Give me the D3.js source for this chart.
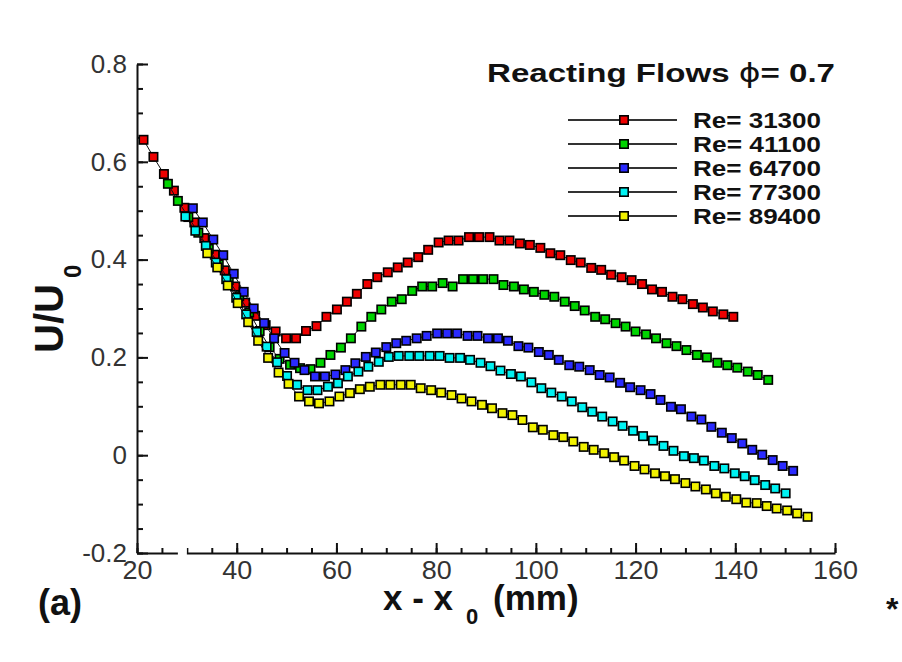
<!DOCTYPE html>
<html>
<head>
<meta charset="utf-8">
<script src="https://cdn.jsdelivr.net/npm/d3@7"></script>
<style>
  html, body { margin: 0; padding: 0; background: #fff; }
  svg { display: block; font-family: "Liberation Sans", Arial, Helvetica, sans-serif; }
</style>
</head>
<body>
<svg id="chart" width="902" height="662"></svg>
<script>
// Mean axial velocity U/U0 along x - x0 (mm), reacting flows at phi = 0.7
const reynolds = [31300, 41100, 64700, 77300, 89400];
const seriesColors = ["#ee0000", "#00d400", "#2a2aff", "#00f2f2", "#f2f200"];

const x31300 = [21.3, 23.3, 25.4, 27.4, 29.5, 31.5, 33.5, 35.6, 37.6, 39.7, 41.7, 43.7, 45.8, 47.8, 49.9, 51.9, 53.9, 56.0, 58.0, 60.1,
  62.1, 64.1, 66.2, 68.2, 70.3, 72.3, 74.3, 76.4, 78.4, 80.5, 82.5, 84.5, 86.6, 88.6, 90.7, 92.7, 94.7, 96.8, 98.8, 100.9,
  102.9, 104.9, 107.0, 109.0, 111.1, 113.1, 115.1, 117.2, 119.2, 121.3, 123.3, 125.3, 127.4, 129.4, 131.5, 133.5, 135.5, 137.6, 139.6];
const u31300 = [0.645, 0.610, 0.575, 0.541, 0.506, 0.476, 0.444, 0.410, 0.378, 0.345,
  0.312, 0.285, 0.266, 0.253, 0.239, 0.239, 0.254, 0.264, 0.283, 0.298,
  0.314, 0.330, 0.350, 0.364, 0.374, 0.384, 0.394, 0.405, 0.420, 0.435,
  0.439, 0.439, 0.446, 0.446, 0.446, 0.439, 0.439, 0.433, 0.430, 0.424,
  0.413, 0.409, 0.399, 0.394, 0.383, 0.379, 0.369, 0.364, 0.358, 0.350,
  0.339, 0.334, 0.324, 0.319, 0.309, 0.302, 0.294, 0.288, 0.283];

const x41100 = [26.2, 28.2, 30.3, 32.3, 34.4, 36.4, 38.4, 40.5, 42.5, 44.6, 46.6, 48.6, 50.7, 52.7, 54.8, 56.8, 58.8, 60.9, 62.9, 65.0,
  67.0, 69.0, 71.1, 73.1, 75.2, 77.2, 79.2, 81.3, 83.3, 85.4, 87.4, 89.4, 91.5, 93.5, 95.6, 97.6, 99.6, 101.7, 103.7, 105.8,
  107.8, 109.8, 111.9, 113.9, 116.0, 118.0, 120.0, 122.1, 124.1, 126.2, 128.2, 130.2, 132.3, 134.3, 136.4, 138.4, 140.4, 142.5, 144.5, 146.6];
const u41100 = [0.555, 0.520, 0.487, 0.455, 0.422, 0.390, 0.358, 0.325, 0.292, 0.254,
  0.221, 0.197, 0.185, 0.178, 0.176, 0.189, 0.205, 0.220, 0.239, 0.263,
  0.283, 0.298, 0.314, 0.319, 0.336, 0.345, 0.345, 0.352, 0.345, 0.360,
  0.360, 0.360, 0.360, 0.348, 0.345, 0.339, 0.334, 0.328, 0.324, 0.314,
  0.305, 0.296, 0.283, 0.278, 0.270, 0.263, 0.253, 0.247, 0.239, 0.229,
  0.223, 0.215, 0.205, 0.200, 0.189, 0.184, 0.179, 0.171, 0.164, 0.154];

const x64700 = [31.2, 33.2, 35.3, 37.3, 39.4, 41.4, 43.4, 45.5, 47.5, 49.6, 51.6, 53.6, 55.7, 57.7, 59.8, 61.8, 63.8, 65.9, 67.9, 70.0,
  72.0, 74.0, 76.1, 78.1, 80.2, 82.2, 84.2, 86.3, 88.3, 90.4, 92.4, 94.4, 96.5, 98.5, 100.6, 102.6, 104.6, 106.7, 108.7, 110.8,
  112.8, 114.8, 116.9, 118.9, 121.0, 123.0, 125.0, 127.1, 129.1, 131.2, 133.2, 135.2, 137.3, 139.3, 141.4, 143.4, 145.4, 147.5, 149.5, 151.6];
const u64700 = [0.505, 0.476, 0.441, 0.409, 0.371, 0.334, 0.300, 0.270, 0.239, 0.209,
  0.189, 0.174, 0.161, 0.161, 0.165, 0.174, 0.188, 0.201, 0.210, 0.221,
  0.229, 0.234, 0.239, 0.244, 0.249, 0.249, 0.249, 0.244, 0.244, 0.239,
  0.239, 0.234, 0.223, 0.220, 0.211, 0.205, 0.195, 0.184, 0.181, 0.174,
  0.164, 0.159, 0.148, 0.139, 0.133, 0.125, 0.113, 0.099, 0.094, 0.079,
  0.073, 0.058, 0.046, 0.035, 0.024, 0.011, 0.001, -0.010, -0.022, -0.032];

const x77300 = [29.7, 31.7, 33.8, 35.8, 37.9, 39.9, 41.9, 44.0, 46.0, 48.1, 50.1, 52.1, 54.2, 56.2, 58.3, 60.3, 62.3, 64.4, 66.4, 68.5,
  70.5, 72.5, 74.6, 76.6, 78.7, 80.7, 82.7, 84.8, 86.8, 88.9, 90.9, 92.9, 95.0, 97.0, 99.1, 101.1, 103.1, 105.2, 107.2, 109.3,
  111.3, 113.3, 115.4, 117.4, 119.5, 121.5, 123.5, 125.6, 127.6, 129.7, 131.7, 133.7, 135.8, 137.8, 139.9, 141.9, 143.9, 146.0, 148.0, 150.1];
const u77300 = [0.488, 0.459, 0.428, 0.394, 0.360, 0.322, 0.288, 0.252, 0.222, 0.190,
  0.162, 0.144, 0.133, 0.133, 0.140, 0.147, 0.161, 0.171, 0.181, 0.191,
  0.201, 0.203, 0.203, 0.203, 0.203, 0.203, 0.199, 0.199, 0.195, 0.189,
  0.182, 0.173, 0.166, 0.161, 0.149, 0.137, 0.128, 0.120, 0.110, 0.098,
  0.089, 0.079, 0.069, 0.060, 0.050, 0.039, 0.030, 0.019, 0.009, -0.002,
  -0.006, -0.011, -0.022, -0.027, -0.037, -0.043, -0.051, -0.061, -0.068, -0.078];

const x89400 = [34.1, 36.1, 38.2, 40.2, 42.3, 44.3, 46.3, 48.4, 50.4, 52.5, 54.5, 56.5, 58.6, 60.6, 62.7, 64.7, 66.7, 68.8, 70.8, 72.9,
  74.9, 76.9, 79.0, 81.0, 83.1, 85.1, 87.1, 89.2, 91.2, 93.3, 95.3, 97.3, 99.4, 101.4, 103.5, 105.5, 107.5, 109.6, 111.6, 113.7,
  115.7, 117.7, 119.8, 121.8, 123.9, 125.9, 127.9, 130.0, 132.0, 134.1, 136.1, 138.1, 140.2, 142.2, 144.3, 146.3, 148.3, 150.4, 152.4, 154.5];
const u89400 = [0.413, 0.384, 0.347, 0.311, 0.272, 0.234, 0.199, 0.169, 0.146, 0.120,
  0.110, 0.106, 0.110, 0.120, 0.127, 0.135, 0.140, 0.144, 0.144, 0.144,
  0.144, 0.137, 0.133, 0.128, 0.123, 0.116, 0.110, 0.103, 0.096, 0.086,
  0.082, 0.072, 0.057, 0.052, 0.041, 0.037, 0.028, 0.017, 0.011, 0.004,
  -0.004, -0.011, -0.022, -0.029, -0.037, -0.043, -0.049, -0.057, -0.064, -0.070,
  -0.078, -0.085, -0.090, -0.097, -0.098, -0.104, -0.109, -0.113, -0.119, -0.126];

const xTickValues = [20, 40, 60, 80, 100, 120, 140, 160];
const xTickLabels = ["20", "40", "60", "80", "100", "120", "140", "160"];
const yTickValues = [-0.2, 0, 0.2, 0.4, 0.6, 0.8];
const yTickLabels = ["-0.2", "0", "0.2", "0.4", "0.6", "0.8"];

const xColumns = [x31300, x41100, x64700, x77300, x89400];
const uColumns = [u31300, u41100, u64700, u77300, u89400];
const series = reynolds.map((re, i) => ({
  re,
  color: seriesColors[i],
  points: d3.zip(xColumns[i], uColumns[i])
}));

const svg = d3.select("#chart");
svg.append("rect").attr("width", 902).attr("height", 662).attr("fill", "#fff");

const x = d3.scaleLinear().domain([20, 160]).range([137, 835]);
const y = d3.scaleLinear().domain([-0.2, 0.8]).range([553, 64]);

const tickFont = 26;

// minor ticks every 5 mm / 0.05, pointing into the plot
svg.append("g")
  .attr("transform", `translate(0,${y(-0.2)})`)
  .call(d3.axisBottom(x).tickValues(d3.range(20, 160.01, 5)).tickSize(-5).tickSizeOuter(0).tickFormat(""))
  .call(g => g.select(".domain").remove())
  .call(g => g.selectAll("line").attr("stroke", "#111").attr("stroke-width", 2));
svg.append("g")
  .attr("transform", `translate(${x(20)},0)`)
  .call(d3.axisLeft(y).tickValues(d3.range(-0.2, 0.8001, 0.05)).tickSize(-6).tickSizeOuter(0).tickFormat(""))
  .call(g => g.select(".domain").remove())
  .call(g => g.selectAll("line").attr("stroke", "#111").attr("stroke-width", 2));

// major ticks with labels
const xAxis = svg.append("g")
  .attr("transform", `translate(0,${y(-0.2)})`)
  .call(d3.axisBottom(x).tickValues(xTickValues).tickSize(-10).tickSizeOuter(0).tickPadding(8)
    .tickFormat((d, i) => xTickLabels[i]));
const yAxis = svg.append("g")
  .attr("transform", `translate(${x(20)},0)`)
  .call(d3.axisLeft(y).tickValues(yTickValues).tickSize(-11).tickSizeOuter(0).tickPadding(10)
    .tickFormat((d, i) => yTickLabels[i]));

[xAxis, yAxis].forEach(g => {
  g.select(".domain").attr("stroke", "#111").attr("stroke-width", 2);
  g.selectAll(".tick line").attr("stroke", "#111").attr("stroke-width", 2);
  g.selectAll(".tick text")
    .attr("fill", "#333")
    .style("font-size", tickFont + "px")
    .style("font-family", "'Liberation Sans', Arial, sans-serif");
});
xAxis.selectAll(".tick text").attr("textLength", d => (d >= 100 ? 45 : 30)).attr("lengthAdjust", "spacingAndGlyphs");

// small break in the bottom axis line
svg.append("rect")
  .attr("x", x(28.2)).attr("y", y(-0.2) - 12)
  .attr("width", x(30) - x(28.2)).attr("height", 16)
  .attr("fill", "#fff");

// data: thin connector under square symbols
const markerSize = 8.4;
const line = d3.line().x(d => x(d[0])).y(d => y(d[1]));
const plot = svg.append("g");
series.forEach(s => {
  const g = plot.append("g");
  g.append("path")
    .attr("d", line(s.points))
    .attr("fill", "none")
    .attr("stroke", "#111")
    .attr("stroke-width", 1);
  g.selectAll("rect")
    .data(s.points)
    .join("rect")
    .attr("x", d => x(d[0]) - markerSize / 2)
    .attr("y", d => y(d[1]) - markerSize / 2)
    .attr("width", markerSize)
    .attr("height", markerSize)
    .attr("fill", s.color)
    .attr("stroke", "#000")
    .attr("stroke-width", 1.6);
});

// legend
const legend = svg.append("g");
legend.append("text")
  .attr("x", 487).attr("y", 82)
  .attr("font-weight", "bold")
  .attr("font-size", 26)
  .attr("fill", "#111")
  .attr("textLength", 348)
  .attr("lengthAdjust", "spacingAndGlyphs")
  .call(t => {
    t.append("tspan").text("Reacting Flows ");
    t.append("tspan").attr("font-weight", "normal").attr("font-family", "'DejaVu Sans', sans-serif").text("ϕ");
    t.append("tspan").text("= 0.7");
  });

series.forEach((s, i) => {
  const rowY = 120 + i * 24;
  const row = legend.append("g");
  row.append("line")
    .attr("x1", 568).attr("x2", 677)
    .attr("y1", rowY).attr("y2", rowY)
    .attr("stroke", "#333").attr("stroke-width", 2);
  row.append("rect")
    .attr("x", 624 - markerSize / 2).attr("y", rowY - markerSize / 2)
    .attr("width", markerSize).attr("height", markerSize)
    .attr("fill", s.color).attr("stroke", "#000").attr("stroke-width", 1.6);
  row.append("text")
    .attr("x", 693).attr("y", rowY + 8)
    .attr("font-weight", "bold")
    .attr("font-size", 22)
    .attr("fill", "#111")
    .attr("textLength", 128)
    .attr("lengthAdjust", "spacingAndGlyphs")
    .text(`Re= ${s.re}`);
});

// axis titles
svg.append("text")
  .attr("transform", "translate(63,353) rotate(-90)")
  .attr("font-weight", "bold")
  .attr("font-size", 40)
  .attr("fill", "#111")
  .call(t => {
    t.append("tspan").text("U/U");
    t.append("tspan").attr("font-size", 24).attr("dx", 6).attr("dy", 18).text("0");
  });

svg.append("text")
  .attr("x", 383).attr("y", 610)
  .attr("font-weight", "bold")
  .attr("font-size", 35)
  .attr("fill", "#111")
  .call(t => {
    t.append("tspan").text("x - x");
    t.append("tspan").attr("x", 466).attr("dy", 14).attr("font-size", 22).text("0");
    t.append("tspan").attr("x", 493).attr("dy", -14).text("(mm)");
  });

svg.append("text")
  .attr("x", 38).attr("y", 615)
  .attr("font-weight", "bold")
  .attr("font-size", 36)
  .attr("fill", "#111")
  .text("(a)");

svg.append("text")
  .attr("x", 886).attr("y", 620)
  .attr("font-weight", "bold")
  .attr("font-size", 32)
  .attr("fill", "#111")
  .text("*");
</script>
</body>
</html>
